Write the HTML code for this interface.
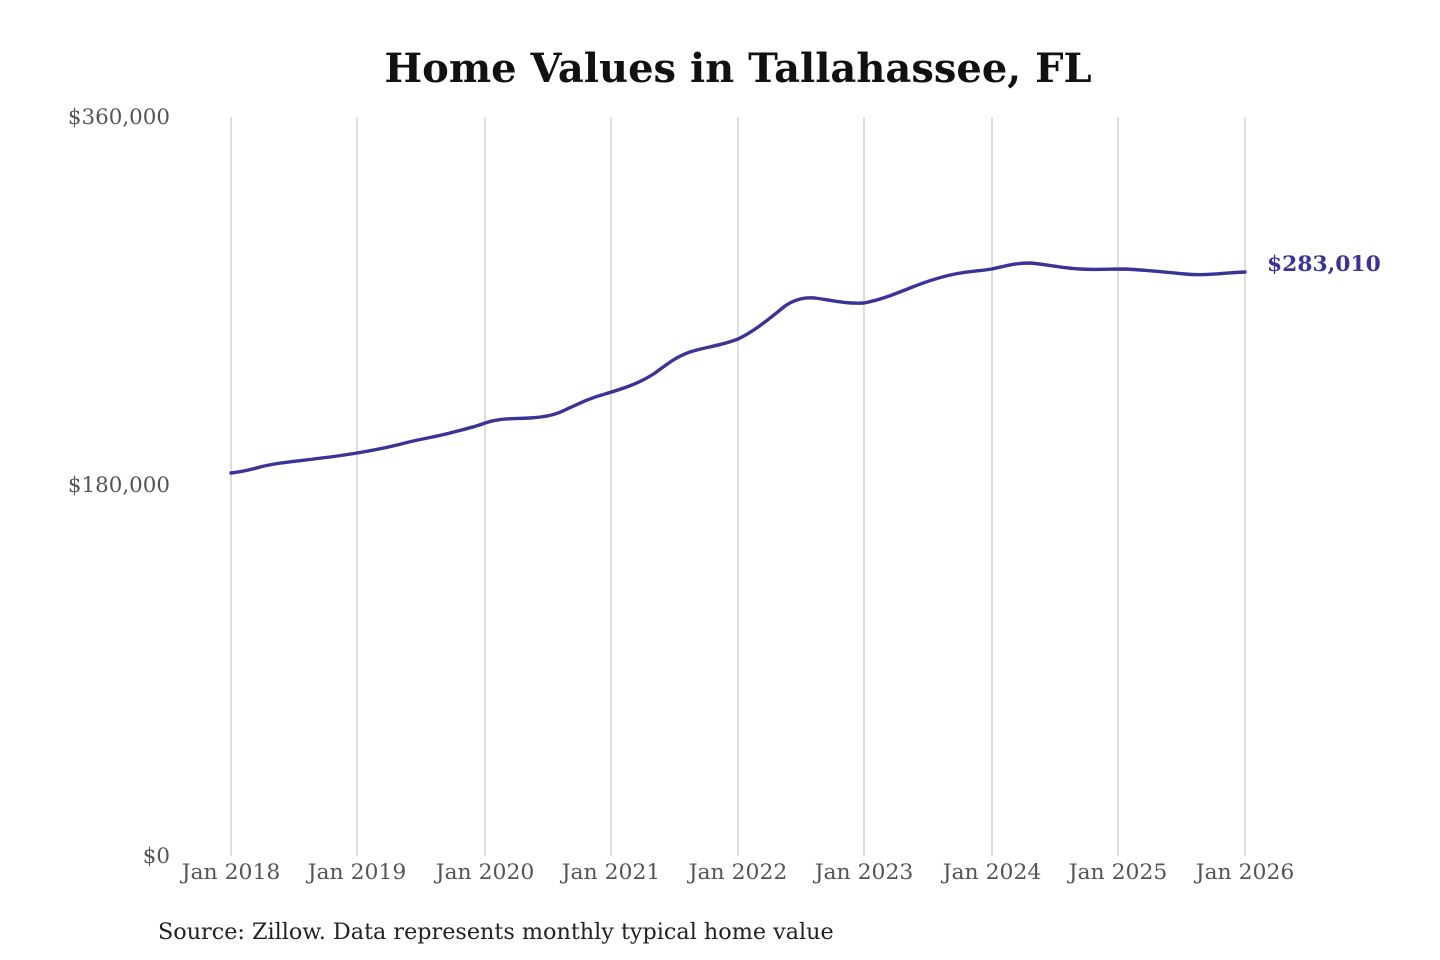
<!DOCTYPE html>
<html><head><meta charset="utf-8"><style>
html,body{margin:0;padding:0;background:#fff;}
svg{display:block;}
text{font-family:"DejaVu Serif","Liberation Serif",serif;}
</style></head><body>
<svg width="1440" height="960" viewBox="0 0 1440 960" xmlns="http://www.w3.org/2000/svg">
<rect width="1440" height="960" fill="#fff"/>
<text x="738" y="82" text-anchor="middle" font-size="40" font-weight="bold" fill="#111">Home Values in Tallahassee, FL</text>
<g stroke="#c8c8c8" stroke-width="1.2">
<line x1="231" y1="117" x2="231" y2="856"/>
<line x1="357" y1="117" x2="357" y2="856"/>
<line x1="485" y1="117" x2="485" y2="856"/>
<line x1="611" y1="117" x2="611" y2="856"/>
<line x1="738" y1="117" x2="738" y2="856"/>
<line x1="864" y1="117" x2="864" y2="856"/>
<line x1="992" y1="117" x2="992" y2="856"/>
<line x1="1118" y1="117" x2="1118" y2="856"/>
<line x1="1245" y1="117" x2="1245" y2="856"/>
</g>
<g font-size="21.4" fill="#555" text-anchor="end">
<text x="170" y="124">$360,000</text>
<text x="170" y="492">$180,000</text>
<text x="170" y="863">$0</text>
</g>
<g font-size="21.9" fill="#555" text-anchor="middle">
<text x="231" y="879">Jan 2018</text>
<text x="357" y="879">Jan 2019</text>
<text x="485" y="879">Jan 2020</text>
<text x="611" y="879">Jan 2021</text>
<text x="738" y="879">Jan 2022</text>
<text x="864" y="879">Jan 2023</text>
<text x="992" y="879">Jan 2024</text>
<text x="1118" y="879">Jan 2025</text>
<text x="1245" y="879">Jan 2026</text>
</g>
<path fill="none" stroke="#3b3396" stroke-width="3.4" stroke-linejoin="round" stroke-linecap="round"
d="M231,473 C240,472 250,470 260,467 C280,462 300,461 330,457 C345,455 357,453 357,453 C375,450 390,447 405,443 C420,439 435,437 450,433 C465,429 475,427 485,423 C500,418 510,419 530,418 C545,417 555,415 565,410 C580,403 590,398 605,394 C625,388 640,383 655,373 C670,362 678,356 690,352 C705,347 720,346 738,339 C755,331 770,318 785,306 C795,299 805,297 815,298 C830,300 845,304 864,303 C880,300 895,294 910,288 C925,282 940,277 955,274 C970,271 980,271 992,269 C1005,266 1015,263 1030,263 C1045,264 1060,268 1080,269 C1095,270 1110,269 1125,269 C1145,270 1165,272 1185,274 C1205,276 1220,273 1245,272"/>
<text x="1267" y="271" font-size="21.8" font-weight="bold" fill="#3b3396">$283,010</text>
<text x="158" y="939" font-size="22.3" fill="#222">Source: Zillow. Data represents monthly typical home value</text>
</svg>
</body></html>
